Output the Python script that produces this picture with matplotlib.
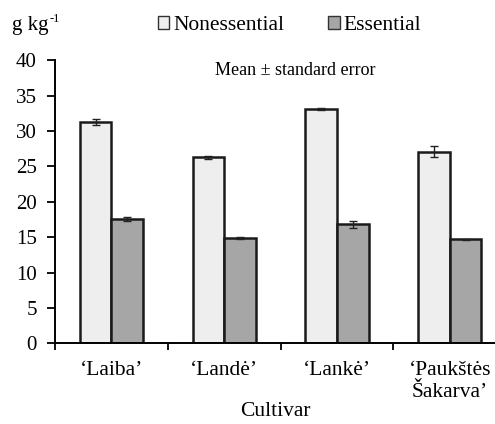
import matplotlib.pyplot as plt
import numpy as np
from matplotlib.patches import Patch

plt.rcParams['font.family'] = ['Liberation Serif', 'DejaVu Serif']

cultivars = ['\u2018Laiba\u2019', '\u2018Land\u0117\u2019', '\u2018Lank\u0117\u2019',
             '\u2018Pauk\u0161t\u0117s\n\u0160akarva\u2019']
nonessential = [31.3, 26.3, 33.1, 27.1]
nonessential_err = [0.4, 0.2, 0.2, 0.8]
essential = [17.6, 14.9, 16.8, 14.7]
essential_err = [0.3, 0.1, 0.5, 0.1]

fig = plt.figure(figsize=(4.95, 4.24), dpi=100)
ax = fig.add_axes([0.111, 0.19, 0.889, 0.668])

x = np.arange(len(cultivars))
w = 0.28
ax.bar(x - w / 2, nonessential, w, yerr=nonessential_err, color='#eeeeee',
       edgecolor='#1a1a1a', linewidth=1.8, capsize=3,
       error_kw=dict(elinewidth=1, capthick=1, ecolor='#222222'))
ax.bar(x + w / 2, essential, w, yerr=essential_err, color='#a6a6a6',
       edgecolor='#1a1a1a', linewidth=1.8, capsize=3,
       error_kw=dict(elinewidth=1, capthick=1, ecolor='#222222'))

ax.set_xlim(-0.5, 3.4)
ax.set_ylim(0, 40)
ax.set_yticks(range(0, 41, 5))
ax.set_xticks(np.arange(-0.5, 3.5, 1.0))
ax.set_xticklabels([])
ax.set_xticks(x, minor=True)
ax.set_xticklabels(cultivars, minor=True, fontsize=15.5, linespacing=1.15)
ax.tick_params(axis='x', which='minor', length=0, pad=13)
ax.tick_params(axis='x', which='major', direction='out', length=5, width=1.3)
ax.tick_params(axis='y', direction='out', length=6, width=1.3, labelsize=15, pad=7)
for s in ['top', 'right']:
    ax.spines[s].set_visible(False)
for s in ['left', 'bottom']:
    ax.spines[s].set_linewidth(1.4)

ax.set_xlabel('Cultivar', fontsize=15.5, labelpad=0)
ax.text(0.545, 0.965, 'Mean \u00b1 standard error', transform=ax.transAxes,
        ha='center', va='center', fontsize=13)
fig.text(0.025, 0.94, 'g kg', fontsize=15, va='center')
fig.text(0.1, 0.955, '-1', fontsize=9, va='center')

handles = [Patch(facecolor='#eeeeee', edgecolor='#333333', label='Nonessential'),
           Patch(facecolor='#a6a6a6', edgecolor='#333333', label='Essential')]
fig.legend(handles=handles, loc='center', bbox_to_anchor=(0.585, 0.94), ncol=2,
           frameon=False, fontsize=15.5, handlelength=0.55, handleheight=0.55,
           handletextpad=0.2, columnspacing=2.0)

fig.savefig('out.png', dpi=100)
